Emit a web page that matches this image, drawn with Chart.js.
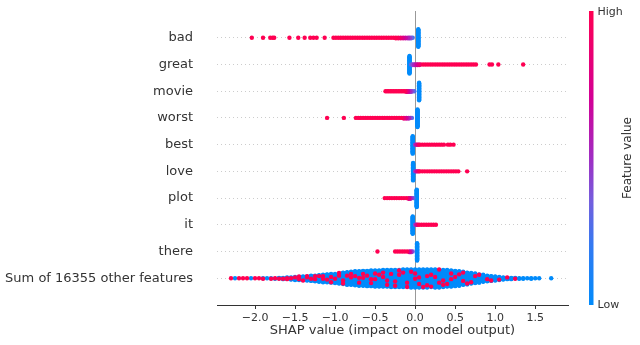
<!DOCTYPE html>
<html>
<head>
<meta charset="utf-8">
<script src="https://cdn.jsdelivr.net/npm/chart.js@4.4.0/dist/chart.umd.min.js"></script>
<style>
  html, body { margin: 0; padding: 0; background: #fff; }
  #wrap { width: 640px; height: 345px; }
</style>
</head>
<body>
<div id="wrap"><canvas id="myChart" width="640" height="345"></canvas></div>
<script>
// feature names, top row first
const featureNames = ['bad', 'great', 'movie', 'worst', 'best', 'love', 'plot', 'it', 'there',
  'Sum of 16355 other features']
const xTicks = [-2.0, -1.5, -1.0, -0.5, 0.0, 0.5, 1.0, 1.5]

// each entry: [shap value, number of points, feature value 0 (low) .. 1 (high)]
const bad = [[-2.04,1,1],[-1.90,1,1],[-1.81,1,1],[-1.78,1,1],[-1.76,1,1],[-1.57,1,1],[-1.46,1,1],
  [-1.38,1,1],[-1.31,1,1],[-1.27,1,1],[-1.23,1,1],[-1.13,1,1],
  [-1.02,1,1],[-0.99,1,1],[-0.96,1,1],[-0.93,1,1],[-0.90,1,1],[-0.87,1,1],[-0.84,1,1],[-0.81,1,1],
  [-0.78,1,1],[-0.75,1,1],[-0.72,1,1],[-0.69,1,1],[-0.66,1,1],[-0.63,1,1],[-0.60,1,1],[-0.57,1,1],
  [-0.54,1,1],[-0.51,1,1],[-0.48,1,1],[-0.45,1,1],[-0.42,1,1],[-0.39,1,1],[-0.36,1,1],[-0.33,1,1],
  [-0.30,1,1],[-0.27,1,1],[-0.24,2,1],[-0.21,2,0.95],[-0.18,2,0.85],[-0.15,2,0.75],[-0.12,2,0.65],
  [-0.09,2,0.55],[-0.07,2,0.45],[-0.05,2,0.35],[-0.03,1,0.25],[0.04,30,0]]
const great = [[-0.07,30,0],[-0.05,1,0.3],[-0.03,2,0.4],[-0.01,2,0.5],[0.01,2,0.6],[0.03,2,0.7],
  [0.05,2,0.8],[0.07,1,0.9],[0.10,1,1],[0.13,1,1],[0.16,1,1],[0.19,1,1],[0.22,1,1],[0.25,1,1],
  [0.28,1,1],[0.31,1,1],[0.34,1,1],[0.37,1,1],[0.40,1,1],[0.43,1,1],[0.46,1,1],[0.49,1,1],[0.52,1,1],
  [0.55,1,1],[0.58,1,1],[0.61,1,1],[0.64,1,1],[0.67,1,1],[0.70,1,1],[0.73,1,1],[0.76,1,1],
  [0.93,1,1],[0.96,1,1],[1.04,1,1],[1.35,1,1]]
const movie = [[-0.37,1,1],[-0.35,1,1],[-0.33,1,1],[-0.31,1,1],[-0.29,1,1],[-0.27,1,1],[-0.25,1,1],
  [-0.23,1,1],[-0.21,1,1],[-0.19,1,1],[-0.17,1,1],[-0.15,1,1],[-0.13,1,1],[-0.11,2,0.85],
  [-0.09,2,0.7],[-0.07,2,0.55],[-0.05,2,0.45],[-0.03,1,0.35],[-0.01,1,0.25],[0.05,30,0]]
const worst = [[-1.10,1,1],[-0.89,1,1],[-0.74,1,1],[-0.71,1,1],[-0.68,1,1],[-0.65,1,1],[-0.62,1,1],
  [-0.59,1,1],[-0.56,1,1],[-0.53,1,1],[-0.50,1,1],[-0.47,1,1],[-0.44,1,1],[-0.41,1,1],[-0.38,1,1],
  [-0.35,1,1],[-0.32,1,1],[-0.29,1,1],[-0.26,1,1],[-0.23,1,1],[-0.20,1,1],[-0.17,1,1],
  [-0.14,2,0.85],[-0.11,2,0.7],[-0.08,2,0.55],[-0.06,1,0.4],[-0.04,1,0.3],[0.03,30,0]]
const best = [[-0.03,30,0],[0.0,1,0.45],[0.015,1,0.6],[0.03,1,0.75],[0.045,1,0.9],[0.06,1,1],
  [0.09,1,1],[0.12,1,1],[0.15,1,1],[0.18,1,1],[0.21,1,1],[0.24,1,1],[0.27,1,1],[0.30,1,1],
  [0.33,1,1],[0.36,1,1],[0.41,1,1],[0.44,1,1],[0.48,1,1]]
const love = [[-0.025,30,0],[0.0,1,0.45],[0.015,1,0.6],[0.03,1,0.75],[0.045,1,0.9],[0.06,1,1],
  [0.09,1,1],[0.12,1,1],[0.15,1,1],[0.18,1,1],[0.21,1,1],[0.24,1,1],[0.27,1,1],[0.30,1,1],
  [0.33,1,1],[0.36,1,1],[0.39,1,1],[0.42,1,1],[0.45,1,1],[0.48,1,1],[0.51,1,1],[0.54,1,1],[0.65,1,1]]
const plot = [[-0.38,1,1],[-0.35,1,1],[-0.32,1,1],[-0.29,1,1],[-0.26,1,1],[-0.23,1,1],[-0.20,1,1],
  [-0.17,1,1],[-0.14,1,1],[-0.11,1,1],[-0.08,2,0.8],[-0.06,2,0.6],[-0.04,1,0.45],[-0.02,1,0.3],
  [0.02,30,0]]
const it = [[-0.03,30,0],[0.0,1,0.4],[0.015,1,0.6],[0.03,1,0.8],[0.05,1,1],[0.08,1,1],[0.11,1,1],
  [0.14,1,1],[0.17,1,1],[0.20,1,1],[0.23,1,1],[0.26,1,1]]
const there = [[-0.47,1,1],[-0.25,1,1],[-0.22,1,1],[-0.19,1,1],[-0.16,1,1],[-0.13,1,1],[-0.10,1,1],
  [-0.07,2,0.7],[-0.05,2,0.5],[-0.03,1,0.35],[0.025,30,0]]

// "other features" row: shap value bins, count of low (blue) and high (pink) points per bin
const otherX = [-2.30,-2.25,-2.20,-2.15,-2.10,-2.05,-2.00,-1.95,-1.90,-1.85,
  -1.80,-1.75,-1.70,-1.65,-1.60,-1.55,-1.50,-1.45,-1.40,-1.35,
  -1.30,-1.25,-1.20,-1.15,-1.10,-1.05,-1.00,-0.95,-0.90,-0.85,
  -0.80,-0.75,-0.70,-0.65,-0.60,-0.55,-0.50,-0.45,-0.40,-0.35,
  -0.30,-0.25,-0.20,-0.15,-0.10,-0.05,0.00,0.05,0.10,0.15,
  0.20,0.25,0.30,0.35,0.40,0.45,0.50,0.55,0.60,0.65,
  0.70,0.75,0.80,0.85,0.90,0.95,1.00,1.05,1.10,1.15,
  1.20,1.25,1.30,1.35,1.40,1.45,1.50,1.55,1.70]
const otherLow = [0,1,0,0,0,1,0,0,1,1,
  1,1,2,3,3,5,7,7,9,9,
  12,12,15,16,18,19,21,23,25,29,
  29,32,32,33,35,35,36,37,37,37,
  39,38,38,40,39,41,40,40,41,40,
  39,41,40,38,38,36,35,33,29,27,
  24,22,19,17,13,11,10,7,6,4,
  4,2,2,2,1,2,1,1,1]
const otherHigh = [1,0,1,1,1,0,1,1,1,0,
  1,1,1,1,2,1,1,2,1,2,
  1,2,1,2,1,2,1,2,2,1,
  2,1,2,2,1,2,2,1,2,2,
  1,2,2,1,2,1,2,2,1,2,
  2,1,2,2,1,2,1,1,2,1,
  1,1,1,0,1,1,0,1,0,1,
  0,1,0,0,0,0,0,0,0]

// shap red_blue colour map (low -> high)
const cmapStops = [[0, [0, 139, 251]], [0.2, [50, 122, 242]], [0.35, [115, 95, 222]],
  [0.5, [160, 45, 195]], [0.7, [210, 0, 150]], [1, [255, 0, 82]]]

function cmap(v) {
  for (let i = 1; i < cmapStops.length; i++) {
    const [t1, c1] = cmapStops[i]
    const [t0, c0] = cmapStops[i - 1]
    if (v <= t1) {
      const f = (v - t0) / (t1 - t0)
      const c = c0.map((a, k) => Math.round(a + (c1[k] - a) * f))
      return 'rgb(' + c.join(',') + ')'
    }
  }
  return 'rgb(255,0,82)'
}

// turn the "other features" bins into entries, pink ones spread through each bin
function otherEntries() {
  const out = []
  otherX.forEach((x, i) => {
    const n = otherLow[i] + otherHigh[i]
    const slots = new Set()
    for (let j = 0; j < otherHigh[i]; j++) {
      slots.add(Math.floor((j + 0.5) * n / otherHigh[i] + i * 3) % n)
    }
    for (let k = 0; k < n; k++) out.push([x, 1, slots.has(k) ? 1 : 0])
  })
  return out
}

// same stacking as shap's beeswarm: 100 bins, alternate up / down
function swarm(entries, row) {
  const pts = []
  entries.forEach(e => { for (let i = 0; i < e[1]; i++) pts.push({ x: e[0], fv: e[2] }) })
  const xs = pts.map(p => p.x)
  const lo = Math.min(...xs), hi = Math.max(...xs)
  pts.forEach((p, i) => { p.q = Math.round(100 * (p.x - lo) / (hi - lo + 1e-8)); p.i = i })
  const order = pts.slice().sort((a, b) => a.q - b.q || a.i - b.i)
  let layer = 0, last = -1
  order.forEach(p => {
    if (p.q !== last) layer = 0
    p.off = Math.ceil(layer / 2) * ((layer % 2) * 2 - 1)
    layer++
    last = p.q
  })
  const m = Math.max(...pts.map(p => p.off + 1))
  const s = 0.9 * (0.4 / m)
  return pts.map(p => ({ x: p.x, y: row + p.off * s, fv: p.fv }))
    .sort((a, b) => a.fv - b.fv)
}

const rows = [bad, great, movie, worst, best, love, plot, it, there, otherEntries()]
const datasets = rows.map((r, i) => {
  const pts = swarm(r, i)
  return {
    label: featureNames[i],
    data: pts.map(p => ({ x: p.x, y: p.y })),
    pointBackgroundColor: pts.map(p => cmap(p.fv)),
    pointBorderWidth: 0,
    pointRadius: 2.2,
    pointHoverRadius: 2.2
  }
})

const FONT = 'DejaVu Sans'

// zero line behind the points, colour bar on the right
const shapDecor = {
  id: 'shapDecor',
  beforeDatasetsDraw(chart) {
    const { ctx, chartArea: a, scales: { x } } = chart
    const zx = Math.round(x.getPixelForValue(0)) + 0.5
    ctx.save()
    ctx.strokeStyle = '#999999'
    ctx.lineWidth = 1
    ctx.beginPath()
    ctx.moveTo(zx, a.top)
    ctx.lineTo(zx, a.bottom)
    ctx.stroke()
    ctx.restore()
  },
  afterDraw(chart) {
    const { ctx, chartArea: a } = chart
    const left = a.right + 21, w = 4.5
    const g = ctx.createLinearGradient(0, a.bottom, 0, a.top)
    cmapStops.forEach(s => g.addColorStop(s[0], cmap(s[0])))
    ctx.save()
    ctx.fillStyle = g
    ctx.fillRect(left, a.top, w, a.bottom - a.top)
    ctx.fillStyle = '#333333'
    ctx.font = '11px "' + FONT + '"'
    ctx.textBaseline = 'middle'
    ctx.textAlign = 'left'
    ctx.fillText('High', left + w + 4, a.top + 1)
    ctx.fillText('Low', left + w + 4, a.bottom)
    ctx.font = '12px "' + FONT + '"'
    ctx.translate(left + w + 34, (a.top + a.bottom) / 2)
    ctx.rotate(-Math.PI / 2)
    ctx.textAlign = 'center'
    ctx.fillText('Feature value', 0, 0)
    ctx.restore()
  }
}

const ctx = document.getElementById('myChart').getContext('2d')
new Chart(ctx, {
  type: 'scatter',
  data: { datasets: datasets },
  plugins: [shapDecor],
  options: {
    responsive: false,
    animation: false,
    events: [],
    layout: { padding: { top: 11, right: 72, left: 0, bottom: 0 } },
    plugins: { legend: { display: false }, tooltip: { enabled: false } },
    scales: {
      x: {
        type: 'linear',
        min: -2.475,
        max: 1.91,
        afterBuildTicks: s => { s.ticks = xTicks.map(v => ({ value: v })) },
        afterFit: s => { s.height = 40 },
        ticks: {
          color: '#333333',
          font: { family: FONT, size: 11 },
          padding: 3,
          maxRotation: 0,
          callback: v => v.toFixed(1).replace('-', '\u2212')
        },
        grid: { drawOnChartArea: false, drawTicks: true, tickLength: 4, color: '#333333' },
        border: { display: true, color: '#333333', width: 1 },
        title: {
          display: true,
          text: 'SHAP value (impact on model output)',
          color: '#333333',
          font: { family: FONT, size: 13 },
          padding: { top: 0, bottom: 7 }
        }
      },
      y: {
        type: 'linear',
        min: -1,
        max: 10,
        reverse: true,
        afterBuildTicks: s => { s.ticks = featureNames.map((n, i) => ({ value: i })) },
        afterFit: s => { s.width = 217 },
        ticks: {
          color: '#333333',
          font: { family: FONT, size: 13 },
          padding: 3,
          callback: v => featureNames[v]
        },
        // long invisible tick marks push the names away from the plot
        grid: { color: '#cccccc', lineWidth: 1, drawTicks: true, tickLength: 21, tickColor: 'rgba(0,0,0,0)' },
        border: { display: false, dash: [1, 3] }
      }
    }
  }
})
</script>
</body>
</html>
